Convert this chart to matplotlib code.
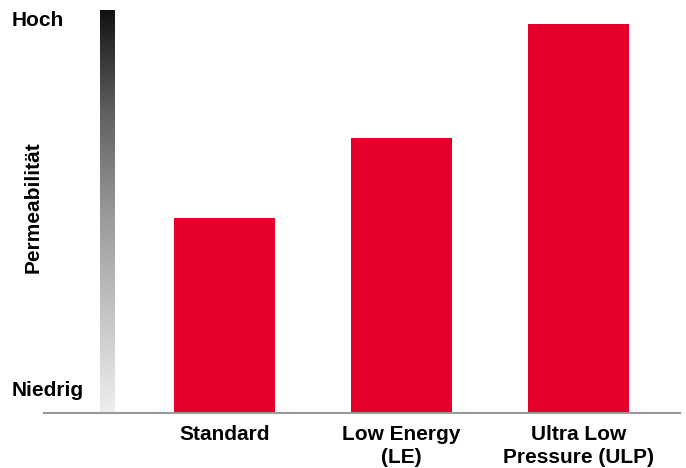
import numpy as np
import matplotlib.pyplot as plt
from matplotlib.colors import LinearSegmentedColormap

plt.rcParams['font.family'] = ['Liberation Sans', 'DejaVu Sans']

# Membrantypen und relative Permeabilität (0 = niedrig, 100 = hoch)
membranen = ['Standard', 'Low Energy\n(LE)', 'Ultra Low\nPressure (ULP)']
permeabilitaet = [48.4, 68.2, 96.5]

rot = '#e4002b'

fig = plt.figure(figsize=(6.86, 4.68), dpi=100)
ax = fig.add_axes([44 / 686, 55 / 468, 636 / 686, 403 / 468])

x = np.arange(len(membranen))
ax.bar(x, permeabilitaet, width=0.571, color=rot, zorder=2)

# Grauverlauf als Skala links
verlauf = LinearSegmentedColormap.from_list(
    'grau', [(0, '#edeeed'), (0.25, '#c3c5c4'), (0.5, '#979998'),
             (0.75, '#5e605f'), (1, '#121212')])
grad = np.linspace(0, 1, 256).reshape(-1, 1)
ax.imshow(grad, cmap=verlauf, origin='lower', aspect='auto',
          extent=(-0.703, -0.619, 0, 100), zorder=1)

ax.set_xlim(-1.02, 2.573)
ax.set_ylim(0, 100)

for s in ['top', 'right', 'left']:
    ax.spines[s].set_visible(False)
ax.spines['bottom'].set_color('#9a9a9a')
ax.spines['bottom'].set_linewidth(1.5)
ax.spines['bottom'].set_zorder(3)
ax.set_yticks([])
ax.set_xticks(x)
ax.set_xticklabels(membranen, fontsize=15, fontweight='bold', linespacing=1.25)
ax.tick_params(axis='x', length=0, pad=9)

fig.text(12 / 686, 1 - 20 / 468, 'Hoch', fontsize=15, fontweight='bold', va='center', ha='left')
fig.text(12 / 686, 1 - 391 / 468, 'Niedrig', fontsize=15, fontweight='bold', va='center', ha='left')
fig.text(33 / 686, 1 - 207 / 468, 'Permeabilität', fontsize=15, fontweight='bold',
         va='center', ha='center', rotation=90)

fig.savefig('out.png', dpi=100)
